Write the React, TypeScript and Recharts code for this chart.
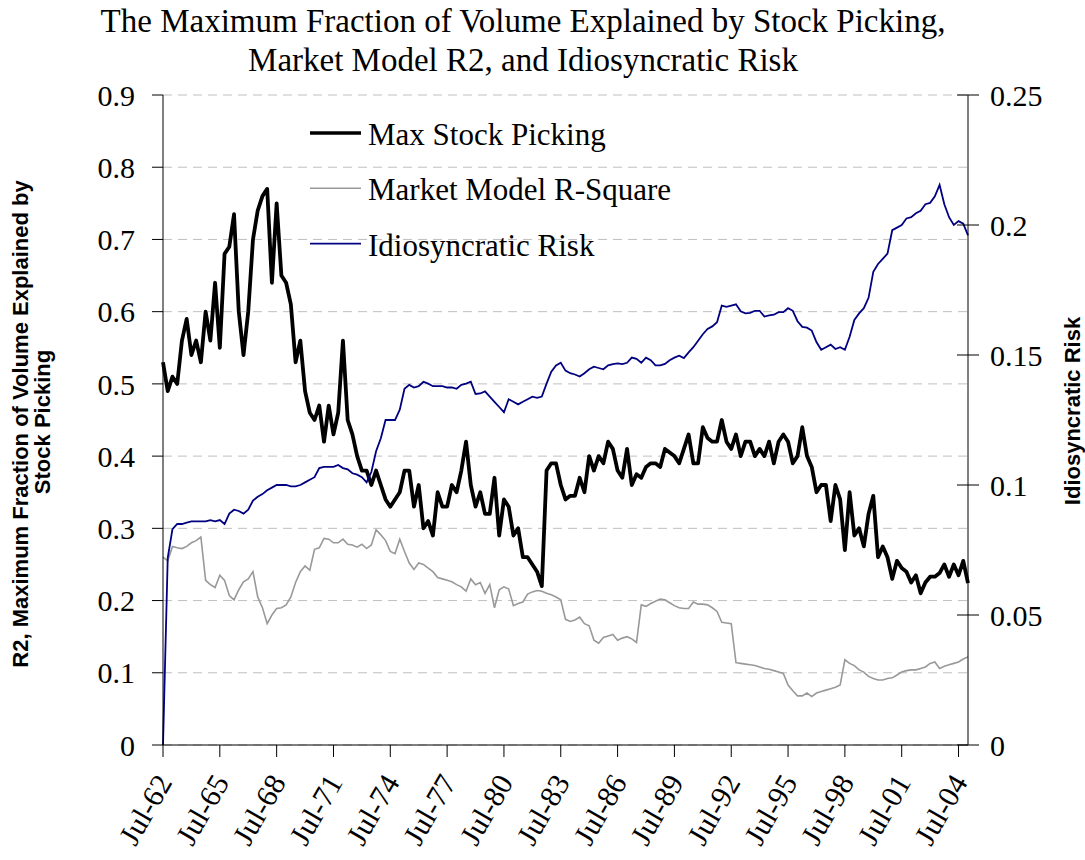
import { LineChart, Line, XAxis, YAxis, CartesianGrid } from "recharts";

// quarterly observations, Jul-62 .. Jan-05
const MONTHS = ["Jan", "Feb", "Mar", "Apr", "May", "Jun", "Jul", "Aug", "Sep", "Oct", "Nov", "Dec"];
const N_QUARTERS = 171;
const quarterLabels: string[] = [];
for (let i = 0; i < N_QUARTERS; i++) {
  const m = 6 + 3 * i;
  const yr = (1962 + Math.floor(m / 12)) % 100;
  quarterLabels.push(`${MONTHS[m % 12]}-${String(yr).padStart(2, "0")}`);
}

const maxStockPicking = [
  0.53, 0.49, 0.51, 0.5, 0.56, 0.59, 0.54, 0.56, 0.53, 0.6,
  0.56, 0.64, 0.55, 0.68, 0.69, 0.735, 0.6, 0.54, 0.6, 0.7,
  0.74, 0.76, 0.77, 0.64, 0.75, 0.65, 0.64, 0.61, 0.53, 0.56,
  0.49, 0.46, 0.45, 0.47, 0.42, 0.47, 0.43, 0.46, 0.56, 0.45,
  0.43, 0.4, 0.38, 0.38, 0.36, 0.38, 0.36, 0.34, 0.33, 0.34,
  0.35, 0.38, 0.38, 0.33, 0.36, 0.3, 0.31, 0.29, 0.35, 0.33,
  0.33, 0.36, 0.35, 0.38, 0.42, 0.36, 0.33, 0.35, 0.32, 0.32,
  0.37, 0.29, 0.34, 0.33, 0.29, 0.3, 0.26, 0.26, 0.25, 0.24,
  0.22, 0.38, 0.39, 0.39, 0.36, 0.34, 0.345, 0.345, 0.37, 0.35,
  0.4, 0.38, 0.4, 0.39, 0.42, 0.41, 0.38, 0.37, 0.41, 0.36,
  0.375, 0.37, 0.385, 0.39, 0.39, 0.385, 0.41, 0.405, 0.4, 0.39,
  0.41, 0.43, 0.39, 0.39, 0.44, 0.425, 0.42, 0.42, 0.45, 0.42,
  0.41, 0.43, 0.4, 0.42, 0.42, 0.4, 0.41, 0.4, 0.42, 0.39,
  0.42, 0.43, 0.42, 0.39, 0.4, 0.44, 0.4, 0.385, 0.35, 0.36,
  0.36, 0.31, 0.36, 0.34, 0.27, 0.35, 0.29, 0.3, 0.275, 0.32,
  0.345, 0.26, 0.275, 0.26, 0.23, 0.255, 0.245, 0.24, 0.225, 0.235,
  0.21, 0.225, 0.233, 0.233, 0.238, 0.25, 0.233, 0.25, 0.235, 0.255, 0.224,
];

const marketModelR2 = [
  0.26, 0.255, 0.275, 0.273, 0.272, 0.275, 0.28, 0.283, 0.288, 0.228,
  0.222, 0.218, 0.235, 0.228, 0.207, 0.201, 0.215, 0.226, 0.23, 0.24,
  0.205, 0.19, 0.168, 0.18, 0.189, 0.19, 0.194, 0.205, 0.225, 0.24,
  0.248, 0.242, 0.271, 0.273, 0.286, 0.285, 0.28, 0.28, 0.285, 0.278,
  0.277, 0.274, 0.278, 0.272, 0.277, 0.298, 0.291, 0.283, 0.268, 0.265,
  0.285, 0.268, 0.252, 0.243, 0.252, 0.25, 0.245, 0.24, 0.232, 0.23,
  0.228, 0.226, 0.222, 0.219, 0.213, 0.23, 0.222, 0.225, 0.21, 0.222,
  0.19, 0.215, 0.219, 0.216, 0.193, 0.196, 0.198, 0.209, 0.212, 0.214,
  0.213, 0.21, 0.208, 0.205, 0.201, 0.174, 0.171, 0.173, 0.177, 0.168,
  0.165, 0.145, 0.141, 0.149, 0.151, 0.153, 0.145, 0.148, 0.15, 0.147,
  0.142, 0.194, 0.192, 0.196, 0.199, 0.202, 0.201, 0.197, 0.193, 0.19,
  0.189, 0.189, 0.198, 0.195, 0.195, 0.194, 0.19, 0.185, 0.17, 0.169,
  0.168, 0.114, 0.113, 0.112, 0.111, 0.11, 0.108, 0.106, 0.105, 0.103,
  0.101, 0.099, 0.083, 0.075, 0.068, 0.068, 0.072, 0.067, 0.072, 0.074,
  0.076, 0.078, 0.08, 0.083, 0.118, 0.113, 0.11, 0.104, 0.101, 0.095,
  0.092, 0.09, 0.09, 0.092, 0.093, 0.097, 0.101, 0.103, 0.104, 0.104,
  0.106, 0.108, 0.113, 0.115, 0.106, 0.109, 0.111, 0.113, 0.115, 0.119, 0.122,
];

const idiosyncraticRisk = [
  0, 0.072, 0.083, 0.085, 0.085, 0.0855, 0.086, 0.086, 0.086, 0.086,
  0.0865, 0.086, 0.0865, 0.085, 0.089, 0.0905, 0.09, 0.089, 0.0905, 0.094,
  0.0955, 0.0965, 0.098, 0.099, 0.1, 0.1, 0.1, 0.0995, 0.0995, 0.1,
  0.101, 0.102, 0.103, 0.1065, 0.107, 0.107, 0.107, 0.1077, 0.1065, 0.106,
  0.1045, 0.104, 0.103, 0.101, 0.105, 0.113, 0.118, 0.125, 0.125, 0.125,
  0.129, 0.137, 0.1385, 0.1375, 0.138, 0.1397, 0.139, 0.138, 0.138, 0.138,
  0.1375, 0.1375, 0.137, 0.1385, 0.139, 0.1397, 0.135, 0.1352, 0.136, 0.134,
  0.132, 0.13, 0.128, 0.133, 0.132, 0.131, 0.132, 0.133, 0.134, 0.1335,
  0.134, 0.139, 0.1436, 0.146, 0.147, 0.144, 0.143, 0.1425, 0.1417, 0.143,
  0.1445, 0.1455, 0.145, 0.1445, 0.146, 0.1465, 0.1468, 0.1465, 0.147, 0.149,
  0.1485, 0.147, 0.149, 0.148, 0.146, 0.146, 0.1466, 0.148, 0.149, 0.1497,
  0.1488, 0.151, 0.153, 0.1555, 0.158, 0.16, 0.161, 0.1626, 0.169, 0.1685,
  0.169, 0.1695, 0.1668, 0.166, 0.1662, 0.167, 0.167, 0.1648, 0.1652, 0.1655,
  0.1665, 0.1665, 0.168, 0.167, 0.163, 0.1608, 0.1605, 0.1594, 0.155, 0.152,
  0.153, 0.154, 0.1523, 0.153, 0.152, 0.157, 0.1635, 0.166, 0.168, 0.172,
  0.182, 0.185, 0.187, 0.189, 0.198, 0.199, 0.2, 0.2025, 0.203, 0.2045,
  0.2055, 0.208, 0.2085, 0.211, 0.2154, 0.208, 0.203, 0.2, 0.2015, 0.2005, 0.196,
];

const leftTicks = [0, 0.1, 0.2, 0.3, 0.4, 0.5, 0.6, 0.7, 0.8, 0.9];
const rightTicks = [0, 0.05, 0.1, 0.15, 0.2, 0.25];

const data = quarterLabels.map((label, i) => ({
  label,
  maxPick: maxStockPicking[i],
  r2: marketModelR2[i],
  idio: idiosyncraticRisk[i],
}));

const SERIF = "'Liberation Serif', 'Times New Roman', serif";
const SANS = "'Liberation Sans', Arial, sans-serif";

function XTick({ x, y, payload }: any) {
  return (
    <g transform={`translate(${x + 1},${y + 20}) rotate(-60)`}>
      <text textAnchor="end" dy="0.35em" fontFamily={SERIF} fontSize={30} fill="#000">
        {payload.value}
      </text>
    </g>
  );
}

function RightTick({ x, y, payload }: any) {
  return (
    <g>
      <line x1={x - 11} x2={x + 11} y1={y} y2={y} stroke="#000" strokeWidth={1} />
      <text x={x + 22} y={y} dy="0.355em" fontFamily={SERIF} fontSize={30} fill="#000">
        {String(payload.value)}
      </text>
    </g>
  );
}

const legendItems = [
  { name: "Max Stock Picking", color: "#000000", width: 3.5 },
  { name: "Market Model R-Square", color: "#999999", width: 1.6 },
  { name: "Idiosyncratic Risk", color: "#000080", width: 1.8 },
];

export default function App() {
  return (
    <div style={{ position: "absolute", left: 0, top: 0, width: 1085, height: 860, background: "#fff" }}>
      <LineChart width={1085} height={860} data={data} margin={{ top: 95, right: 0, bottom: 0, left: 0 }}>
        <CartesianGrid yAxisId="left" vertical={false} stroke="#bfbfbf" strokeDasharray="9 6" />
        <XAxis
          dataKey="label"
          interval={11}
          height={115}
          tickSize={12}
          tickMargin={0}
          axisLine={{ stroke: "#000" }}
          tickLine={{ stroke: "#000" }}
          tick={<XTick />}
        />
        <YAxis
          yAxisId="left"
          orientation="left"
          width={163}
          domain={[0, 0.9]}
          ticks={leftTicks}
          tickSize={11}
          tickMargin={17}
          axisLine={{ stroke: "#000" }}
          tickLine={{ stroke: "#000" }}
          tick={{ fontFamily: SERIF, fontSize: 30, fill: "#000" }}
        />
        <YAxis
          yAxisId="right"
          orientation="right"
          width={117}
          domain={[0, 0.25]}
          ticks={rightTicks}
          tickSize={0}
          tickMargin={0}
          tickLine={false}
          axisLine={{ stroke: "#000" }}
          tick={<RightTick />}
        />
        <Line yAxisId="left" type="linear" dataKey="maxPick" stroke="#000" strokeWidth={3.8} dot={false} isAnimationActive={false} strokeLinejoin="round" />
        <Line yAxisId="left" type="linear" dataKey="r2" stroke="#999999" strokeWidth={1.6} dot={false} isAnimationActive={false} />
        <Line yAxisId="right" type="linear" dataKey="idio" stroke="#000080" strokeWidth={1.8} dot={false} isAnimationActive={false} />
      </LineChart>
      <svg width={1085} height={860} style={{ position: "absolute", left: 0, top: 0, pointerEvents: "none" }}>
        <text x={523} y={32} textAnchor="middle" fontFamily={SERIF} fontSize={33} fill="#000">
          The Maximum Fraction of Volume Explained by Stock Picking,
        </text>
        <text x={523} y={71} textAnchor="middle" fontFamily={SERIF} fontSize={33} fill="#000">
          Market Model R2, and Idiosyncratic Risk
        </text>
        <text transform="translate(28,424) rotate(-90)" textAnchor="middle" fontFamily={SANS} fontWeight="bold" fontSize={22} fill="#000">
          R2, Maximum Fraction of Volume Explained by
        </text>
        <text transform="translate(50,422) rotate(-90)" textAnchor="middle" fontFamily={SANS} fontWeight="bold" fontSize={22} fill="#000">
          Stock Picking
        </text>
        <text transform="translate(1080,411) rotate(-90)" textAnchor="middle" fontFamily={SANS} fontWeight="bold" fontSize={22} fill="#000">
          Idiosyncratic Risk
        </text>
        {legendItems.map((it, i) => (
          <g key={it.name}>
            <line x1={310} x2={361} y1={133 + i * 55.3} y2={133 + i * 55.3} stroke={it.color} strokeWidth={it.width} />
            <text x={368} y={145 + i * 55.3} fontFamily={SERIF} fontSize={31} fill="#000">
              {it.name}
            </text>
          </g>
        ))}
      </svg>
    </div>
  );
}
